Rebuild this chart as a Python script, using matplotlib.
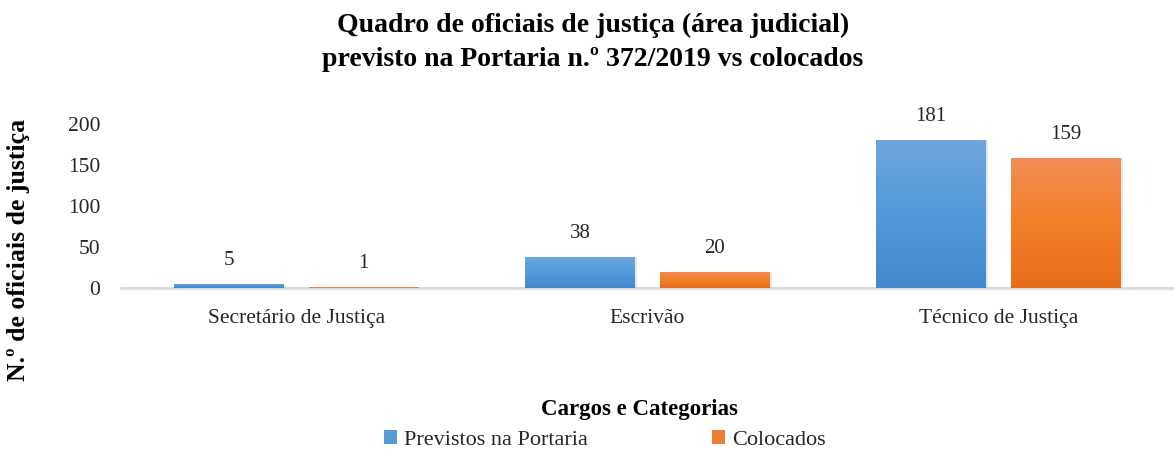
import numpy as np
import matplotlib
matplotlib.use('Agg')
import matplotlib.pyplot as plt
from matplotlib.colors import LinearSegmentedColormap
from matplotlib.patches import Patch

categories = ['Secretário de Justiça', 'Escrivão', 'Técnico de Justiça']
previstos = [5, 38, 181]
colocados = [1, 20, 159]
series_names = ['Previstos na Portaria', 'Colocados']
yticks = [0, 50, 100, 150, 200]

plt.rcParams['font.family'] = ['Liberation Serif', 'DejaVu Serif']

blue_cmap = LinearSegmentedColormap.from_list('b', ['#4388cb', '#529ada', '#6fa6dc'])
orange_cmap = LinearSegmentedColormap.from_list('o', ['#e66c1c', '#f38029', '#f18d58'])

fig = plt.figure(figsize=(11.74, 4.51), dpi=100)
ax = fig.add_axes([0.103, 0.361, 0.897, 0.364])

x = np.arange(len(categories))
width = 0.313
offset = 0.192

def gradient_bars(xs, vals, cmap, base_color):
    bars = ax.bar(xs, vals, width, color=base_color, zorder=3)
    grad = np.linspace(0, 1, 256).reshape(-1, 1)
    for b in bars:
        x0, y0 = b.get_x(), b.get_y()
        w, h = b.get_width(), b.get_height()
        # soft shadow
        ax.bar(x0 + w / 2 + 0.005, h + 0.6, w, bottom=-1.2, color='#7f7f7f', alpha=0.18, zorder=2)
        im = ax.imshow(grad, cmap=cmap, aspect='auto', origin='lower',
                       extent=[x0, x0 + w, y0, y0 + h], zorder=4)
        im.set_clip_path(b)
    for xi, v in zip(xs, vals):
        ax.annotate(str(v), (xi, v), xytext=(0, 10), textcoords='offset points',
                    ha='center', va='bottom', fontsize=15, color='#262626')
    return bars

gradient_bars(x - offset, previstos, blue_cmap, '#5b9bd5')
gradient_bars(x + offset, colocados, orange_cmap, '#ed7d31')

ax.set_xlim(-0.5, len(categories) - 0.5)
ax.set_ylim(0, 200)
ax.set_yticks(yticks)
ax.set_xticks(x)
ax.set_xticklabels(categories)
ax.tick_params(axis='both', length=0, labelsize=15.5, colors='#262626')
ax.tick_params(axis='y', pad=15)
ax.tick_params(axis='x', pad=15)
for s in ['top', 'right', 'left']:
    ax.spines[s].set_visible(False)
ax.spines['bottom'].set_color('#d9d9d9')
ax.spines['bottom'].set_linewidth(2)
ax.spines['bottom'].set_zorder(1)
ax.patch.set_alpha(0)

fig.text(0.505, 0.971, 'Quadro de oficiais de justiça (área judicial)\nprevisto na Portaria n.º 372/2019 vs colocados',
         ha='center', va='top', fontsize=20, fontweight='bold', linespacing=1.45)
fig.text(0.545, 0.093, 'Cargos e Categorias', ha='center', va='center',
         fontsize=16.5, fontweight='bold')
fig.text(0.016, 0.445, 'N.º de oficiais de justiça', ha='center', va='center',
         rotation=90, fontsize=18.5, fontweight='bold')

handles = [Patch(facecolor='#5b9bd5'), Patch(facecolor='#ed7d31')]
fig.legend(handles, series_names, loc='center', bbox_to_anchor=(0.515, 0.024), ncol=2,
           frameon=False, fontsize=16, handlelength=0.6, handleheight=0.6,
           handletextpad=0.3, columnspacing=5.6, labelcolor='#262626')

fig.savefig('out.png', dpi=100)
